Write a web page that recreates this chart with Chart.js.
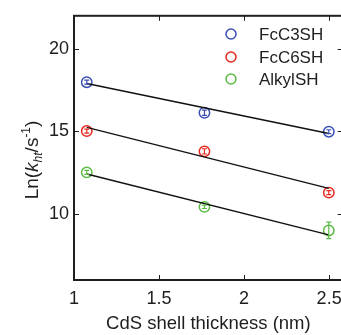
<!DOCTYPE html>
<html>
<head>
<meta charset="utf-8">
<script src="https://cdn.jsdelivr.net/npm/chart.js@4/dist/chart.umd.min.js"></script>
<style>
html,body{margin:0;padding:0;background:#fff;overflow:hidden;width:341px;height:335px;}
#wrap{width:350px;height:335px;}
</style>
</head>
<body>
<div id="wrap"><canvas id="c" width="350" height="335"></canvas></div>
<script>
// ---- data ----
const thickness = [1.075, 1.767, 2.498];
const fcc3sh = [17.98, 16.13, 14.98];
const fcc6sh = [15.02, 13.79, 11.29];
const alkylsh = [12.52, 10.43, 9.0];
const fcc3shErr = [0.12, 0.16, 0.12];
const fcc6shErr = [0.12, 0.16, 0.12];
const alkylshErr = [0.12, 0.1, 0.5];
const fitX = [1.075, 2.498];
const fitFcC3SH = [17.9, 14.87];
const fitFcC6SH = [15.24, 11.55];
const fitAlkylSH = [12.42, 8.73];
const seriesNames = ['FcC3SH', 'FcC6SH', 'AlkylSH'];
const xTicks = [1, 1.5, 2, 2.5];
const yTicks = [10, 15, 20];
const xTitle = 'CdS shell thickness (nm)';

const FONT = '"Liberation Sans", Arial, Helvetica, sans-serif';
const colors = ['#3a4fb4', '#e8281e', '#5cbb45'];
const ink = '#1e1e1e';

function pts(xs, ys) { return xs.map((x, i) => ({x: x, y: ys[i]})); }

const pointSets = [fcc3sh, fcc6sh, alkylsh];
const errSets = [fcc3shErr, fcc6shErr, alkylshErr];
const fitSets = [fitFcC3SH, fitFcC6SH, fitAlkylSH];

const datasets = [];
fitSets.forEach((f) => {
  datasets.push({
    type: 'line', data: pts(fitX, f), borderColor: '#111', borderWidth: 1.4,
    pointRadius: 0, fill: false, isFit: true, tension: 0
  });
});
pointSets.forEach((s, i) => {
  datasets.push({
    type: 'scatter', label: seriesNames[i], data: pts(thickness, s),
    borderColor: colors[i], backgroundColor: 'rgba(0,0,0,0)',
    pointRadius: 5.2, pointBorderWidth: 1.5, pointHoverRadius: 5.2,
    errors: errSets[i]
  });
});

const frame = {
  id: 'frame',
  afterDraw(chart) {
    const {ctx, chartArea: a, scales} = chart;
    ctx.save();
    ctx.strokeStyle = ink;
    ctx.lineWidth = 1;
    const tl = 5;
    ctx.beginPath();
    xTicks.forEach(v => {
      const px = Math.round(scales.x.getPixelForValue(v)) + 0.5;
      ctx.moveTo(px, a.bottom); ctx.lineTo(px, a.bottom - tl);
      ctx.moveTo(px, a.top); ctx.lineTo(px, a.top + tl);
    });
    yTicks.forEach(v => {
      const py = Math.round(scales.y.getPixelForValue(v)) + 0.5;
      ctx.moveTo(a.left, py); ctx.lineTo(a.left + tl, py);
      ctx.moveTo(a.right, py); ctx.lineTo(a.right - tl, py);
    });
    ctx.stroke();
    ctx.lineWidth = 2;
    ctx.strokeRect(a.left, a.top, a.right - a.left, a.bottom - a.top);
    ctx.restore();

    // y-axis title with italic k, subscript ht, superscript -1
    ctx.save();
    const parts = [
      {t: 'Ln(', f: '19px ' + FONT, dy: 0},
      {t: 'k', f: 'italic 19px ' + FONT, dy: 0},
      {t: 'ht', f: 'italic 12px ' + FONT, dy: 4},
      {t: '/s', f: '19px ' + FONT, dy: 0},
      {t: '-1', f: '12px ' + FONT, dy: -8},
      {t: ')', f: '19px ' + FONT, dy: 0}
    ];
    let total = 0;
    parts.forEach(p => { ctx.font = p.f; p.w = ctx.measureText(p.t).width; total += p.w; });
    ctx.translate(38, 160);
    ctx.rotate(-Math.PI / 2);
    ctx.fillStyle = ink;
    ctx.textBaseline = 'alphabetic';
    let x = -total / 2;
    parts.forEach(p => { ctx.font = p.f; ctx.fillText(p.t, x, p.dy); x += p.w; });
    ctx.restore();

    // legend inside plot area
    ctx.save();
    const lx = 231, ly = [34, 57, 79];
    seriesNames.forEach((n, i) => {
      ctx.beginPath();
      ctx.strokeStyle = colors[i];
      ctx.lineWidth = 1.5;
      ctx.arc(lx, ly[i], 5, 0, Math.PI * 2);
      ctx.stroke();
      ctx.fillStyle = ink;
      ctx.font = '17px ' + FONT;
      ctx.textBaseline = 'middle';
      ctx.fillText(n, 259, ly[i] + 1);
    });
    ctx.restore();
  }
};

const errorBars = {
  id: 'errorBars',
  afterDatasetsDraw(chart) {
    const {ctx, scales} = chart;
    ctx.save();
    chart.data.datasets.forEach((ds) => {
      if (!ds.errors) return;
      ctx.strokeStyle = ds.borderColor;
      ctx.lineWidth = 1.2;
      ds.data.forEach((p, i) => {
        const e = ds.errors[i];
        const px = scales.x.getPixelForValue(p.x);
        const y1 = scales.y.getPixelForValue(p.y - e);
        const y2 = scales.y.getPixelForValue(p.y + e);
        ctx.beginPath();
        ctx.moveTo(px, y1); ctx.lineTo(px, y2);
        ctx.moveTo(px - 2.5, y1); ctx.lineTo(px + 2.5, y1);
        ctx.moveTo(px - 2.5, y2); ctx.lineTo(px + 2.5, y2);
        ctx.stroke();
      });
    });
    ctx.restore();
  }
};

new Chart(document.getElementById('c'), {
  type: 'scatter',
  data: {datasets: datasets},
  options: {
    responsive: false,
    animation: false,
    events: [],
    layout: {padding: {top: 12, right: 7, left: 0, bottom: 0}},
    plugins: {legend: {display: false}, tooltip: {enabled: false}},
    scales: {
      x: {
        type: 'linear', min: 1, max: 2.58,
        afterBuildTicks: s => { s.ticks = xTicks.map(v => ({value: v})); },
        afterFit: s => { s.height = 55; },
        grid: {display: false, drawTicks: false},
        border: {display: false},
        ticks: {color: ink, font: {family: FONT, size: 18}, padding: 8, maxRotation: 0,
                callback: v => String(v)},
        title: {display: true, text: xTitle, color: ink, font: {family: FONT, size: 18.5}, padding: {top: 4, bottom: 0}}
      },
      y: {
        type: 'linear', min: 6, max: 22,
        afterBuildTicks: s => { s.ticks = yTicks.map(v => ({value: v})); },
        afterFit: s => { s.width = 74; },
        grid: {display: false, drawTicks: false},
        border: {display: false},
        ticks: {color: ink, font: {family: FONT, size: 18}, padding: 5, callback: v => String(v)}
      }
    }
  },
  plugins: [errorBars, frame]
});
</script>
</body>
</html>
